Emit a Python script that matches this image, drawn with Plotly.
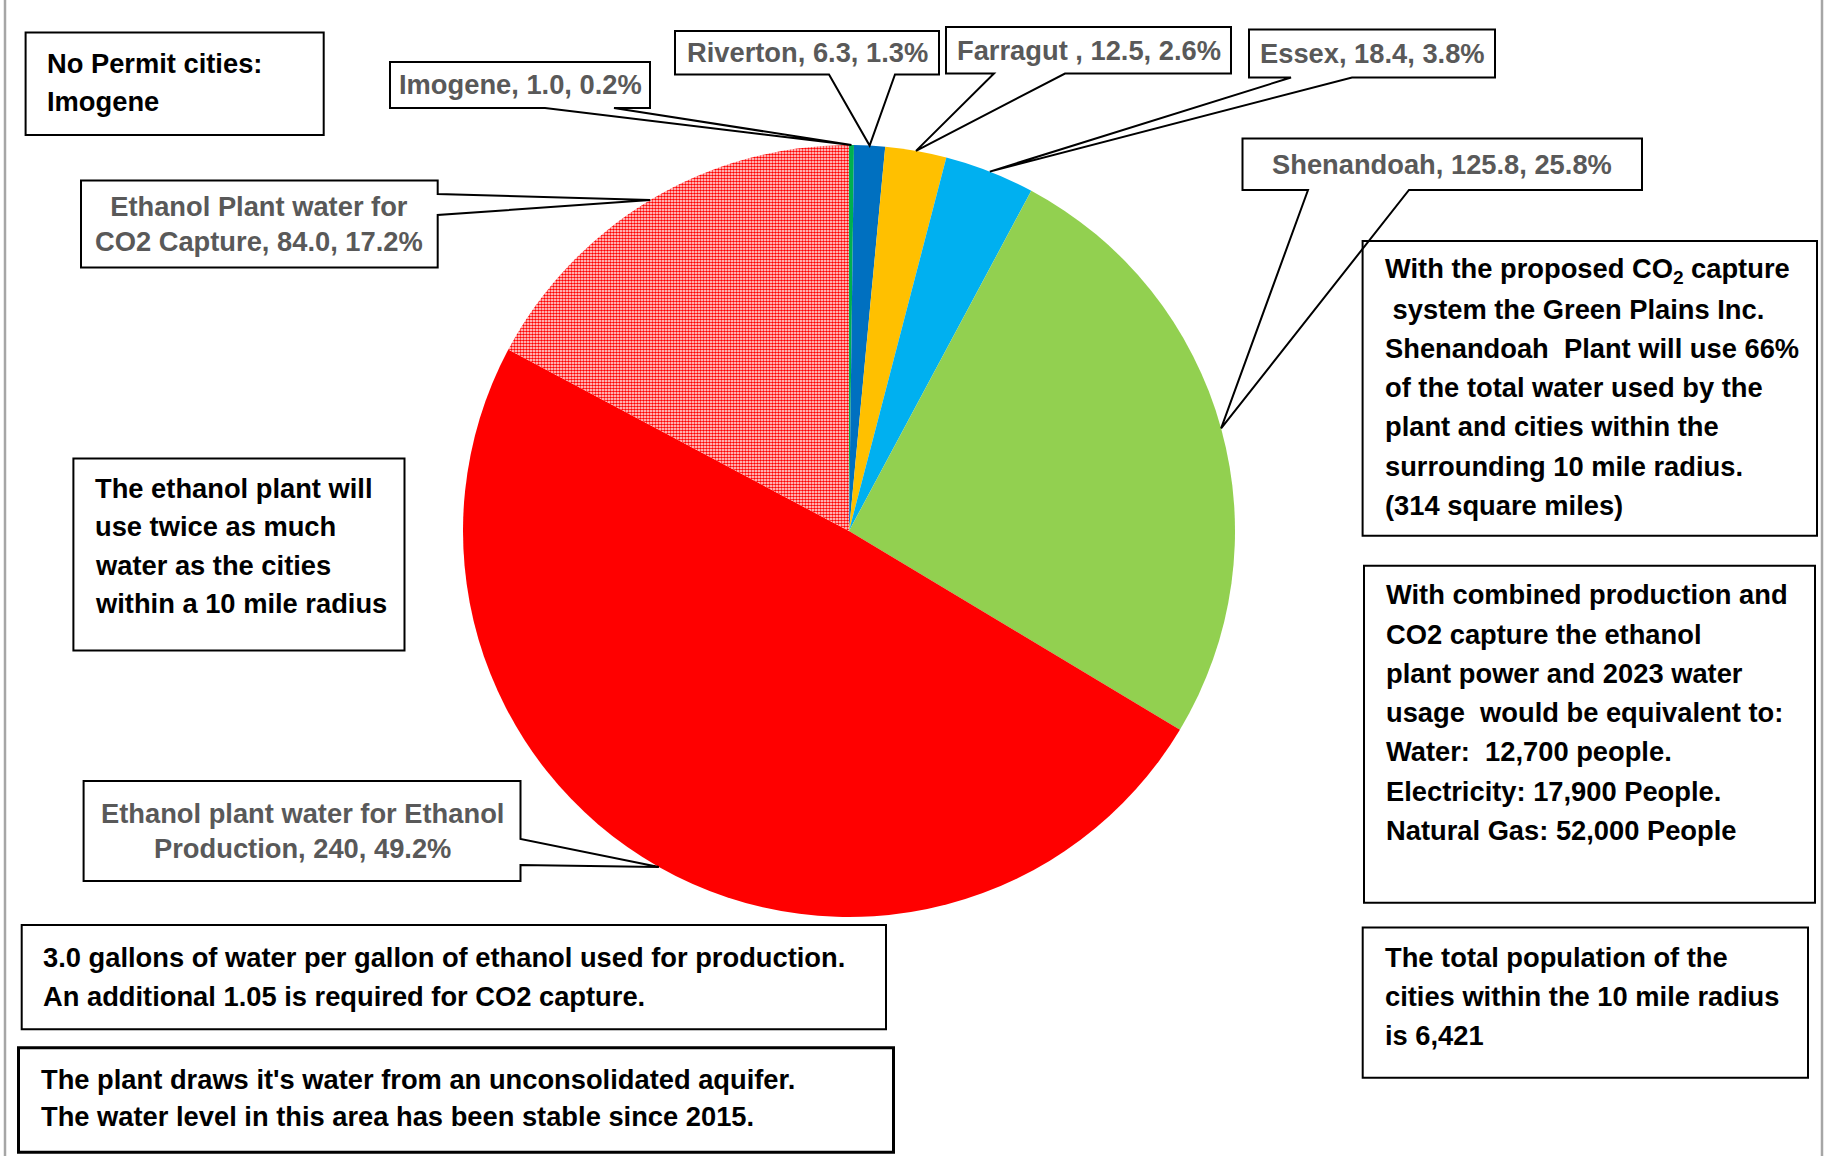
import math
import plotly.graph_objects as go

# Canvas size in pixels
W, H = 1826, 1156

# ---- Pie data: annual water use (clockwise from 12 o'clock) ----
slice_names = [
    "Imogene",
    "Riverton",
    "Farragut ",
    "Essex",
    "Shenandoah",
    "Ethanol plant water for Ethanol<br>Production",
    "Ethanol Plant water for<br>CO2 Capture",
]
water_use = [1.0, 6.3, 12.5, 18.4, 125.8, 240, 84.0]
value_decimals = [1, 1, 1, 1, 1, 0, 1]
slice_colors = ["#00B050", "#0070C0", "#FFC000", "#00B0F0", "#92D050", "#FF0000", "#FF9C9C"]
slice_patterns = ["", "", "", "", "", "", "."]

# ---- Free-text notes ----
note_no_permit = ["No Permit cities:", "Imogene"]
note_twice = ["The ethanol plant will", "use twice as much", "water as the cities",
              "within a 10 mile radius"]
note_share = ["With the proposed CO<sub>2</sub> capture", " system the Green Plains Inc.",
              "Shenandoah  Plant will use 66%", "of the total water used by the",
              "plant and cities within the", "surrounding 10 mile radius.",
              "(314 square miles)"]
note_equiv = ["With combined production and", "CO2 capture the ethanol",
              "plant power and 2023 water", "usage  would be equivalent to:",
              "Water:  12,700 people.", "Electricity: 17,900 People.",
              "Natural Gas: 52,000 People"]
note_population = ["The total population of the", "cities within the 10 mile radius",
                   "is 6,421"]
note_gallons = ["3.0 gallons of water per gallon of ethanol used for production.",
                "An additional 1.05 is required for CO2 capture."]
note_aquifer = ["The plant draws it's water from an unconsolidated aquifer.",
                "The water level in this area has been stable since 2015."]

FONT = "Liberation Sans, Arial, sans-serif"
FS = 27.3
LABEL_GREY = "#595959"

# Pie placement (pixels)
CX, CY, R = 849, 531, 386


def P(x, y):
    """pixel -> paper coordinates"""
    return x / W, 1 - y / H


fig = go.Figure()

fig.add_trace(go.Pie(
    labels=[n.replace("<br>", " ") for n in slice_names],
    values=water_use,
    sort=False,
    direction="clockwise",
    rotation=0,
    textinfo="none",
    hoverinfo="label+value+percent",
    showlegend=False,
    marker=dict(
        colors=slice_colors,
        line=dict(width=0),
        pattern=dict(shape=slice_patterns, fgcolor=["#FF0000"] * len(water_use),
                     size=3, solidity=0.6, fillmode="replace"),
    ),
    domain=dict(x=[(CX - R) / W, (CX + R) / W], y=[1 - (CY + R) / H, 1 - (CY - R) / H]),
))

shapes = []
annotations = []

# Outer chart-area side borders
for bx in (5, 1822):
    x0, _ = P(bx, 0)
    shapes.append(dict(type="line", xref="paper", yref="paper", x0=x0, x1=x0, y0=0, y1=1,
                       line=dict(color="#A6A6A6", width=2.5), layer="above"))


def text_box(rect, lines, tx, ty0, pitch, lw=2):
    x0, y0, x1, y1 = rect
    a, b = P(x0, y0)
    c, d = P(x1, y1)
    shapes.append(dict(type="rect", xref="paper", yref="paper", x0=a, y0=d, x1=c, y1=b,
                       line=dict(color="#000000", width=lw), fillcolor="rgba(0,0,0,0)",
                       layer="above"))
    for i, ln in enumerate(lines):
        px, py = P(tx, ty0 + i * pitch)
        annotations.append(dict(x=px, y=py, xref="paper", yref="paper", text=ln,
                                showarrow=False, xanchor="left", yanchor="middle",
                                font=dict(family=FONT, size=FS, color="#000000",
                                          weight="bold")))


# ---- Data callouts: label boxes with wedge pointers to slice mid-angles ----
callout_boxes = [
    dict(rect=(390, 62, 650, 108), side="bottom", base=(545, 614)),
    dict(rect=(675, 31, 939, 74.5), side="bottom", base=(829, 895)),
    dict(rect=(946, 27, 1231, 73.5), side="bottom", base=(994, 1065)),
    dict(rect=(1249, 29.5, 1495, 77.5), side="bottom", base=(1291, 1352)),
    dict(rect=(1242.5, 138.5, 1642, 190), side="bottom", base=(1308, 1409)),
    dict(rect=(83.6, 781, 520.5, 881), side="right", base=(839, 865)),
    dict(rect=(81, 180.5, 437.7, 267.5), side="right", base=(194, 215)),
]

total = sum(water_use)
cum = 0.0
for i, v in enumerate(water_use):
    mid = (cum + v / 2) / total * 2 * math.pi
    cum += v
    tip = (CX + R * math.sin(mid), CY - R * math.cos(mid))
    box = callout_boxes[i]
    x0, y0, x1, y1 = box["rect"]
    b1, b2 = box["base"]
    if box["side"] == "bottom":
        pts = [(x0, y0), (x1, y0), (x1, y1), (b2, y1), tip, (b1, y1), (x0, y1)]
    else:
        pts = [(x0, y0), (x1, y0), (x1, b1), tip, (x1, b2), (x1, y1), (x0, y1)]
    path = ""
    for k, (px, py) in enumerate(pts):
        u, w = P(px, py)
        path += ("M" if k == 0 else "L") + f"{u:.5f},{w:.5f} "
    path += "Z"
    shapes.append(dict(type="path", path=path, xref="paper", yref="paper",
                       line=dict(color="#000000", width=2), fillcolor="#FFFFFF",
                       layer="above"))
    pct = v / total * 100
    label = f"{slice_names[i]}, {v:.{value_decimals[i]}f}, {pct:.1f}%"
    lx, ly = P((x0 + x1) / 2, (y0 + y1) / 2)
    annotations.append(dict(x=lx, y=ly, xref="paper", yref="paper", text=label,
                            showarrow=False, xanchor="center", yanchor="middle",
                            align="center",
                            font=dict(family=FONT, size=FS, color=LABEL_GREY,
                                      weight="bold")))

# ---- Notes ----
text_box((25.6, 32.6, 323.7, 135), note_no_permit, 45, 63, 38.4)
text_box((73.4, 458.5, 404.5, 650.5), note_twice, 92.5, 488.3, 38.5)
text_box((1362.6, 241, 1817, 535.7), note_share, 1383, 270.5, 39.1)
text_box((1364, 565.7, 1815, 902.7), note_equiv, 1384.3, 595, 39.2)
text_box((1362.7, 927.5, 1808, 1077.7), note_population, 1382.7, 957.3, 38.9)
text_box((21.7, 925, 886, 1029.3), note_gallons, 41, 957.3, 39.4)
text_box((18.5, 1047.7, 893.5, 1152.3), note_aquifer, 39.3, 1079.3, 37.4, lw=3)

fig.update_layout(
    width=W, height=H,
    margin=dict(l=0, r=0, t=0, b=0),
    paper_bgcolor="#FFFFFF",
    plot_bgcolor="#FFFFFF",
    shapes=shapes,
    annotations=annotations,
)

fig.write_html("out.html")
